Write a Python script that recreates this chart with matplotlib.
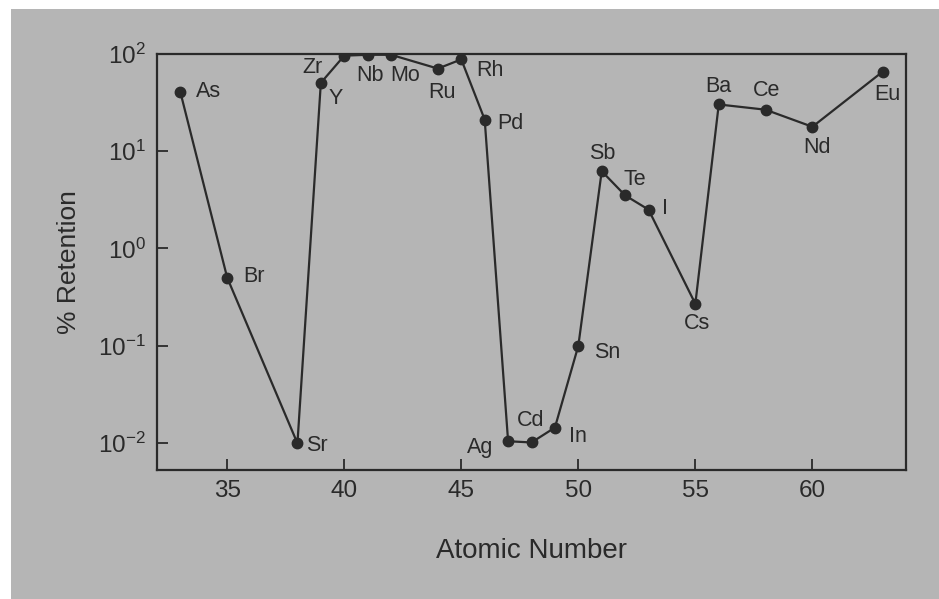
import matplotlib
matplotlib.use("Agg")
import matplotlib.pyplot as plt
from matplotlib.patches import Rectangle
from matplotlib.ticker import LogLocator, NullLocator

plt.rcParams['font.family'] = ['Liberation Sans', 'DejaVu Sans']
plt.rcParams['mathtext.default'] = 'regular'

elements = ["As", "Br", "Sr", "Y", "Zr", "Nb", "Mo", "Ru", "Rh", "Pd", "Ag",
            "Cd", "In", "Sn", "Sb", "Te", "I", "Cs", "Ba", "Ce", "Nd", "Eu"]
atomic_number = [33, 35, 38, 39, 40, 41, 42, 44, 45, 46, 47,
                 48, 49, 50, 51, 52, 53, 55, 56, 58, 60, 63]
retention = [40, 0.5, 0.01, 50, 95, 97, 97, 70, 87, 21, 0.0105,
             0.0102, 0.0145, 0.10, 6.2, 3.5, 2.5, 0.27, 30, 26.5, 17.7, 65]

# label placement around each point: (dx, dy) in pixels and alignment
label_pos = {
    "As": (16, 1, "left"), "Br": (16, 1, "left"), "Sr": (9, -2, "left"),
    "Y": (15, -16, "center"), "Zr": (-22, -12, "right"), "Nb": (2, -21, "center"),
    "Mo": (14, -21, "center"), "Ru": (4, -24, "center"), "Rh": (15, -11, "left"),
    "Pd": (13, -4, "left"), "Ag": (-15, -6, "right"), "Cd": (-1, 22, "center"),
    "In": (14, -9, "left"), "Sn": (16, -7, "left"), "Sb": (1, 18, "center"),
    "Te": (10, 16, "center"), "I": (13, 1, "left"), "Cs": (2, -20, "center"),
    "Ba": (0, 18, "center"), "Ce": (1, 19, "center"), "Nd": (5, -21, "center"),
    "Eu": (5, -23, "center"),
}

ink = "#2a2a2a"
paper = "#b5b5b5"

fig = plt.figure(figsize=(9.39, 5.99), dpi=100, facecolor="white")
fig.patches.append(Rectangle((11 / 939, 0), 1, 1 - 9 / 599, transform=fig.transFigure,
                             facecolor=paper, edgecolor="none", zorder=-10))

ax = fig.add_axes([157 / 939, 1 - 470 / 599, (906 - 157) / 939, (470 - 53.5) / 599])
ax.set_facecolor(paper)

ax.plot(atomic_number, retention, color=ink, lw=1.6, marker="o", markersize=7.5,
        markerfacecolor=ink, markeredgecolor=ink)

for el, z, r in zip(elements, atomic_number, retention):
    dx, dy, ha = label_pos[el]
    ax.annotate(el, (z, r), xytext=(dx, dy), textcoords="offset pixels",
                ha=ha, va="center", fontsize=15.5, color=ink)

ax.set_yscale("log")
ax.set_xlim(32, 64)
ax.set_ylim(10 ** -2.274, 100)
ax.set_xticks([35, 40, 45, 50, 55, 60])
ax.yaxis.set_major_locator(LogLocator(base=10, numticks=10))
ax.yaxis.set_minor_locator(NullLocator())

for s in ax.spines.values():
    s.set_linewidth(1.6)
    s.set_color(ink)

ax.tick_params(direction="in", length=8, width=1.3, color=ink, labelsize=17.5,
               labelcolor=ink, top=False, right=False)
ax.tick_params(axis="x", pad=7)
ax.tick_params(axis="y", pad=8)

ax.set_xlabel("Atomic Number", fontsize=20, color=ink, labelpad=26)
ax.set_ylabel("% Retention", fontsize=19, color=ink, labelpad=12)

fig.savefig("out.png", dpi=100, facecolor=fig.get_facecolor())
